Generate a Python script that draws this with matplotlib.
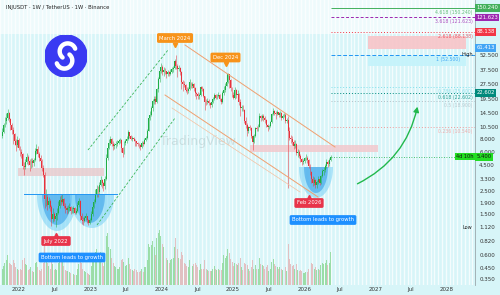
import numpy as np
import pandas as pd
import matplotlib
matplotlib.use("Agg")
import matplotlib.pyplot as plt
import matplotlib.dates as mdates
from matplotlib.patches import Rectangle, Polygon, FancyArrowPatch, Circle

# ---------------- data (weekly INJ/USDT) ----------------
start_week = "2021-10-04"
first_open = 8.6
close = [
    # 2021 Oct-Dec
    9.4, 10.9, 12.0, 12.9, 14.2, 12.5, 11.0, 9.8, 8.9, 7.7, 7.0, 7.8, 6.6,
    # 2022
    6.0, 5.7, 4.4, 4.3, 4.8, 5.4, 4.9, 4.5, 4.9, 4.7, 5.0, 6.1, 6.4,
    5.8, 5.3, 4.9, 4.2, 3.6, 2.1, 2.2, 1.85, 2.0, 1.75, 1.35, 1.5, 1.33,
    1.42, 1.55, 1.8, 2.05, 1.95, 2.1, 1.8, 1.7, 1.65, 1.72, 1.75, 1.6, 1.68,
    1.7, 1.55, 1.62, 1.85, 2.0, 1.45, 1.3, 1.28, 1.38, 1.42, 1.3, 1.24, 1.3,
    # 2023
    1.5, 1.75, 1.95, 2.35, 2.6, 2.45, 2.85, 3.2, 3.0, 2.8, 3.3, 5.2, 6.6,
    7.3, 8.0, 7.2, 6.8, 7.0, 7.2, 7.4, 7.6, 7.9, 6.5, 5.9, 7.3, 7.6,
    8.0, 9.3, 8.6, 8.1, 8.2, 8.0, 7.6, 7.3, 7.1, 7.0, 6.7, 7.4, 7.2,
    7.9, 8.2, 9.6, 12.8, 13.8, 15.9, 18.6, 19.8, 18.5, 24.5, 30.5, 36.5, 40.5,
    # 2024
    35.5, 37.5, 36.5, 34.0, 36.0, 34.5, 36.0, 38.5, 39.0, 46.0, 41.0, 38.0, 39.5,
    35.5, 29.0, 27.5, 27.0, 24.0, 23.5, 24.5, 28.5, 26.0, 27.5, 25.0, 22.5, 22.0,
    21.0, 21.5, 25.5, 24.5, 21.0, 18.5, 18.3, 18.8, 18.0, 17.0, 18.5, 19.5, 21.5, 20.2,
    21.0, 21.5, 19.5, 18.5, 22.5, 24.0, 26.5, 28.5, 34.0, 30.0, 25.0, 21.5, 20.0,
    # 2025
    24.0, 21.5, 22.0, 18.5, 16.0, 16.3, 15.5, 12.0, 11.0, 9.5, 10.5, 10.3, 8.5,
    7.5, 8.6, 10.3, 10.0, 10.6, 13.3, 12.9, 13.5, 12.8, 12.2, 11.0, 10.4, 10.8,
    11.8, 13.9, 15.0, 14.5, 14.0, 14.6, 13.6, 14.5, 12.8, 13.5, 13.8, 12.0, 12.3,
    9.6, 8.3, 8.0, 7.5, 6.8, 7.2, 5.9, 6.0, 5.5, 5.1, 4.8, 4.9, 5.2,
    # 2026
    5.3, 5.0, 4.4, 3.8, 3.3, 3.0, 3.2, 2.9, 3.1, 3.3, 3.0, 3.5, 3.9,
    4.0, 4.4, 4.8, 4.6, 5.0, 5.4,
]
high = [
    10.2, 11.6, 13.1, 14.5, 15.7, 14.8, 12.9, 11.5, 10.6, 9.2, 8.0, 8.5, 8.3,
    6.9, 6.4, 5.9, 4.8, 5.1, 5.9, 5.6, 5.1, 5.3, 5.2, 5.3, 6.5, 7.2,
    6.9, 6.0, 5.6, 5.1, 4.5, 3.8, 2.6, 2.35, 2.2, 2.1, 1.85, 1.7, 1.58,
    1.55, 1.7, 2.0, 2.25, 2.3, 2.35, 2.15, 1.9, 1.8, 1.85, 1.9, 1.8, 1.75,
    1.8, 1.75, 1.7, 1.95, 2.15, 2.05, 1.55, 1.4, 1.45, 1.55, 1.45, 1.33, 1.36,
    1.6, 1.85, 2.1, 2.6, 2.9, 2.8, 3.1, 3.5, 3.3, 3.1, 3.5, 5.8, 7.3,
    8.0, 8.6, 8.3, 7.6, 7.4, 7.6, 7.8, 8.0, 8.3, 8.1, 6.7, 7.6, 8.0,
    8.6, 9.9, 9.4, 8.8, 8.5, 8.4, 8.1, 7.7, 7.5, 7.4, 7.2, 7.7, 7.6,
    8.3, 8.6, 10.1, 13.5, 14.9, 16.8, 19.6, 21.0, 20.8, 25.3, 32.0, 38.0, 44.0,
    42.0, 40.0, 39.0, 37.0, 37.5, 37.0, 38.0, 40.5, 41.0, 47.5, 52.7, 43.0, 42.0,
    40.0, 37.0, 30.0, 29.5, 27.5, 25.5, 25.5, 30.5, 29.0, 29.0, 28.0, 25.5, 23.0,
    23.0, 22.5, 26.0, 26.5, 25.0, 21.0, 19.5, 20.0, 19.5, 18.4, 19.0, 20.5, 22.6, 22.0,
    22.0, 23.0, 22.0, 20.0, 23.5, 26.5, 28.0, 31.0, 35.4, 34.5, 31.0, 25.5, 23.0,
    25.5, 24.5, 24.0, 22.5, 19.5, 17.0, 17.0, 15.8, 13.0, 11.4, 10.8, 11.0, 10.5,
    8.8, 9.0, 10.6, 10.8, 11.2, 14.5, 13.6, 14.0, 14.0, 13.5, 12.5, 11.2, 11.0,
    12.0, 14.5, 16.2, 15.5, 15.0, 15.4, 14.8, 15.0, 14.6, 14.0, 14.5, 14.2, 12.8,
    13.3, 10.4, 8.8, 8.6, 7.8, 7.8, 7.4, 6.4, 6.3, 5.8, 5.3, 5.1, 5.4,
    5.7, 5.5, 5.1, 4.6, 3.9, 3.5, 3.4, 3.3, 3.2, 3.5, 3.4, 3.6, 4.1,
    4.3, 4.6, 5.1, 5.0, 5.2, 5.6,
]
low = [
    8.3, 9.2, 10.4, 11.2, 12.3, 11.8, 9.8, 8.9, 7.1, 7.0, 6.1, 6.7, 6.3,
    5.5, 5.2, 4.1, 3.6, 4.1, 4.6, 4.5, 3.9, 4.2, 4.3, 4.4, 4.9, 5.7,
    5.4, 4.9, 4.5, 3.9, 3.4, 1.7, 1.8, 1.65, 1.7, 1.6, 1.15, 1.25, 1.28,
    1.12, 1.3, 1.5, 1.7, 1.85, 1.9, 1.72, 1.55, 1.5, 1.55, 1.6, 1.5, 1.55,
    1.55, 1.5, 1.5, 1.58, 1.75, 1.3, 1.2, 1.18, 1.25, 1.32, 1.22, 1.18, 1.2,
    1.28, 1.45, 1.7, 1.9, 2.2, 2.2, 2.35, 2.8, 2.7, 2.5, 2.6, 3.2, 5.0,
    6.4, 7.0, 6.8, 6.3, 6.4, 6.5, 6.9, 7.1, 7.4, 6.0, 5.4, 5.8, 7.0,
    7.4, 7.9, 8.3, 7.8, 7.7, 7.6, 6.9, 6.8, 6.8, 6.6, 6.3, 6.6, 6.9,
    7.1, 7.7, 8.1, 9.5, 12.4, 13.5, 15.0, 17.4, 17.6, 18.0, 23.0, 29.0, 35.0,
    33.5, 32.5, 34.0, 31.5, 33.0, 33.0, 33.5, 35.0, 35.5, 38.5, 38.0, 32.0, 36.5,
    33.5, 24.5, 23.5, 25.5, 23.0, 22.0, 22.5, 24.0, 25.0, 25.0, 23.5, 21.0, 19.5,
    19.5, 19.5, 21.0, 23.5, 20.5, 15.5, 17.2, 17.6, 17.2, 16.2, 16.5, 18.0, 19.2, 19.5,
    19.5, 20.5, 18.8, 17.5, 18.0, 21.5, 23.0, 26.0, 28.0, 25.0, 23.5, 20.5, 19.5,
    19.5, 20.0, 19.5, 17.0, 13.5, 15.0, 15.0, 11.5, 10.2, 8.6, 9.2, 9.8, 8.2,
    6.3, 7.4, 8.4, 9.6, 9.5, 10.5, 12.0, 12.4, 12.0, 11.6, 10.5, 9.5, 10.0,
    10.6, 11.6, 13.6, 13.6, 12.6, 13.6, 13.0, 13.0, 12.4, 12.5, 13.0, 11.5, 11.6,
    2.7, 7.8, 7.4, 7.0, 6.4, 6.5, 5.6, 5.4, 5.2, 4.8, 4.5, 4.6, 4.7,
    5.0, 4.7, 4.2, 3.6, 3.0, 2.8, 2.9, 2.7, 2.7, 2.95, 2.85, 2.95, 3.4,
    3.6, 3.8, 4.2, 4.3, 4.4, 4.9,
]
volume = [
    30, 35, 40, 45, 55, 40, 38, 36, 45, 40, 33, 30, 28,
    30, 28, 45, 50, 38, 36, 28, 30, 32, 25, 24, 40, 42,
    32, 28, 25, 30, 40, 85, 55, 40, 35, 30, 50, 38, 28,
    30, 28, 40, 45, 45, 48, 35, 28, 25, 25, 24, 22, 20,
    20, 18, 18, 30, 38, 55, 40, 30, 26, 24, 22, 20, 18,
    35, 45, 50, 60, 65, 45, 55, 60, 40, 35, 45, 90, 95,
    70, 65, 50, 40, 35, 33, 30, 30, 32, 45, 48, 42, 35,
    36, 50, 38, 30, 28, 25, 30, 28, 24, 24, 26, 30, 24,
    32, 33, 45, 75, 70, 72, 80, 70, 55, 85, 95, 100, 90,
    75, 70, 55, 50, 45, 40, 45, 48, 50, 70, 85, 65, 50,
    48, 60, 55, 40, 38, 35, 32, 45, 36, 34, 38, 40, 36,
    32, 28, 38, 30, 30, 45, 30, 28, 26, 25, 26, 30, 35, 30,
    28, 30, 28, 27, 40, 55, 50, 52, 65, 58, 48, 42, 35,
    40, 38, 36, 40, 50, 32, 28, 40, 38, 36, 30, 26, 32,
    45, 30, 36, 30, 30, 50, 38, 36, 34, 30, 32, 36, 26,
    30, 42, 48, 38, 34, 32, 30, 32, 30, 28, 28, 32, 26,
    75, 48, 38, 34, 36, 30, 38, 28, 26, 28, 26, 22, 22,
    24, 24, 30, 36, 40, 38, 30, 32, 28, 30, 28, 36, 40,
    38, 40, 46, 36, 40, 60,
]
price_ticks = [52.5, 37.5, 27.5, 19.5, 14.5, 10.5, 8.0, 6.0, 4.5, 3.3,
               2.5, 1.9, 1.5, 1.12, 0.82, 0.6, 0.45, 0.35]
year_ticks = ["2022-01-01", "2022-07-01", "2023-01-01", "2023-07-01", "2024-01-01",
              "2024-07-01", "2025-01-01", "2025-07-01", "2026-01-01", "2026-07-01",
              "2027-01-01", "2027-07-01", "2028-01-01"]
year_labels = ["2022", "Jul", "2023", "Jul", "2024", "Jul", "2025", "Jul", "2026",
               "Jul", "2027", "Jul", "2028"]
fib_levels = [150.24, 121.623, 88.138, 52.5, 25.6, 22.602, 18.9, 10.54]
fib_texts = ["4.618 (150.240)", "3.618 (121.623)", "2.618 (88.138)", "1 (52.500)",
             "0.786 (25.600)", "0.618 (22.602)", "0.5 (18.900)", "0.236 (10.540)"]
fib_colors = ["#43b05c", "#9c27b0", "#f23645", "#2196f3", "#80deea", "#00897b",
              "#b0bec5", "#ef9a9a"]
fib_styles = ["-", (0, (3, 2)), (0, (1, 2)), (0, (4, 2)), (0, (1, 2)), (0, (1, 2)),
              (0, (1, 2)), (0, (1, 2))]
fib_text_right = [0.995, 0.995, 0.995, 0.968, 0.995, 0.995, 0.995, 0.995]
axis_boxes = [(150.24, "150.240", "#43b05c"), (121.623, "121.623", "#9c27b0"),
              (88.138, "88.138", "#f23645"), (61.4, "61.413", "#42a5f5"),
              (22.602, "22.602", "#00897b")]

# ---------------- figure ----------------
BG = "#d7f5f8"
fig = plt.figure(figsize=(5, 2.95), dpi=100)
fig.patch.set_facecolor(BG)
rect = [0, 10 / 295, 475 / 500, 285 / 295]
axv = fig.add_axes(rect)
ax = fig.add_axes(rect, sharex=axv)
ax.set_facecolor("none")
axv.set_facecolor(BG)

dates = pd.date_range(start_week, periods=len(close), freq="7D")
x = mdates.date2num(dates) + 3.5
o = np.array([first_open] + close[:-1])
c = np.array(close)
h = np.array(high)
l = np.array(low)
v = np.array(volume)
up = c >= o

xmin = mdates.date2num(pd.Timestamp("2021-09-26"))
xmax = mdates.date2num(pd.Timestamp("2028-05-23"))

# background stripes
for xs in np.arange(xmin, xmax + 60, 19.5):
    axv.axvline(xs, color="white", lw=1.0, alpha=0.75, zorder=0)
axv.fill_between([0, 1], 0.88, 1.0, transform=axv.transAxes, color="white",
                 alpha=0.6, zorder=0.5, lw=0)

# volume
vcol = np.where(up, "#8fd99a", "#e3b7b9")
axv.bar(x, v, width=5, color=vcol, alpha=0.85, zorder=1)
axv.set_ylim(0, 100 * 285 / 55)
axv.set_yticks([])
axv.set_xlim(xmin, xmax)
for s in axv.spines.values():
    s.set_visible(False)

# price axes
ax.set_yscale("log")
ax.set_ylim(0.307, 179.5)
ax.set_xlim(xmin, xmax)
ccol = np.where(up, "#1fae46", "#e8323c")
ax.vlines(x, l, h, colors=ccol, lw=0.6, alpha=0.6, zorder=4)
ax.bar(x, np.abs(c - o), bottom=np.minimum(o, c), width=4.8, color=ccol, zorder=5)

ax.yaxis.tick_right()
ax.yaxis.set_minor_locator(matplotlib.ticker.NullLocator())
ax.set_yticks(price_ticks)
ax.set_yticklabels([f"{t:.3f}" for t in price_ticks])
ax.tick_params(axis="y", length=0, labelsize=4, colors="#333333", pad=3)
ax.set_xticks(mdates.date2num(pd.to_datetime(year_ticks)))
ax.set_xticklabels(year_labels)
ax.tick_params(axis="x", length=0, labelsize=4, colors="#333333", pad=1.5)
axv.tick_params(axis="x", length=0, labelbottom=False)
for s in ["top", "left", "bottom"]:
    ax.spines[s].set_visible(False)
ax.spines["right"].set_color("#9aa7ab")
ax.spines["right"].set_linewidth(0.6)

T = ax.transAxes
def P(px, py):
    return (px / 475, 1 - py / 285)

# zones
ax.add_patch(Rectangle(P(18, 176), 86 / 475, 8 / 285, transform=T, color="#e9c9cc", alpha=0.8, zorder=2, lw=0))
ax.add_patch(Rectangle(P(250, 152), 128 / 475, 7 / 285, transform=T, color="#f3c6ca", alpha=0.8, zorder=2, lw=0))
ax.add_patch(Rectangle(P(368, 49), 98 / 475, 13 / 285, transform=T, color="#f8c4c8", alpha=0.9, zorder=2, lw=0))
ax.add_patch(Rectangle(P(368, 66), 98 / 475, 10 / 285, transform=T, color="#c4f3fb", alpha=0.9, zorder=2, lw=0))

# fib lines
yax = ax.get_yaxis_transform()
x_last = x[-1]
for lev, txt, col, ls, xr in zip(fib_levels, fib_texts, fib_colors, fib_styles, fib_text_right):
    ax.hlines(lev, x_last, xmax, colors=col, linestyles=ls, lw=0.7, zorder=3)
    ax.text(xr, lev * 0.955, txt, transform=yax, ha="right", va="top",
            fontsize=3.3, color=col, alpha=0.8, zorder=6)
ax.text(0.995, 52.5, "High", transform=yax, ha="right", va="center", fontsize=3.6, color="#222", zorder=6)
ax.text(0.995, 1.12, "Low", transform=yax, ha="right", va="center", fontsize=3.6, color="#222", zorder=6)

for lev, txt, col in axis_boxes:
    ax.text(1.003, lev, txt, transform=yax, ha="left", va="center", fontsize=3.8,
            color="white", zorder=10, clip_on=False,
            bbox=dict(boxstyle="square,pad=0.25", fc=col, ec="none"))
# current price
ax.hlines(close[-1], x_last, xmax, colors="#1fae46", linestyles=(0, (1, 2)), lw=0.6, zorder=3)
ax.text(1.003, close[-1], f"{close[-1]:.3f}", transform=yax, ha="left", va="center",
        fontsize=3.8, color="#111", zorder=10, clip_on=False,
        bbox=dict(boxstyle="square,pad=0.25", fc="#22dd22", ec="none"))
ax.text(0.997, close[-1], "4d 10h", transform=yax, ha="right", va="center",
        fontsize=3.6, color="#111", zorder=10,
        bbox=dict(boxstyle="square,pad=0.25", fc="#22dd22", ec="none"))

# neckline
ax.plot([24 / 475, 117 / 475], [1 - 194 / 285] * 2, transform=T, color="#2196f3", lw=0.7, zorder=6)

# channels
def seg(p1, p2, **kw):
    a, b = P(*p1), P(*p2)
    ax.plot([a[0], b[0]], [a[1], b[1]], transform=T, **kw)
seg((88, 150), (168, 50), color="#3cb55a", lw=0.6, ls=(0, (3, 2)), zorder=6)
seg((97, 225), (175, 118), color="#3cb55a", lw=0.6, ls=(0, (3, 2)), zorder=6)
seg((185, 45), (335, 147), color="#f0a070", lw=0.7, zorder=6)
seg((165, 95), (318, 197), color="#f0a070", lw=0.7, zorder=6)
seg((172, 108), (300, 192), color="#f5c0a0", lw=0.5, zorder=6)

# bowls
def bowl(cx, top, hw, depth, col, alpha):
    th = np.linspace(np.pi, 2 * np.pi, 40)
    pts = [P(cx + hw * np.cos(t), top - depth * np.sin(t)) for t in th]
    ax.add_patch(Polygon(pts, closed=True, transform=T, fc=col, ec="none", alpha=alpha, zorder=3))
bowl(57, 195, 20, 36, "#7fd3f7", 0.6)
bowl(57, 195, 15, 30, "#2e9be8", 0.55)
bowl(92, 195, 22, 33, "#7fd3f7", 0.6)
bowl(90, 195, 15, 28, "#2e9be8", 0.55)
bowl(316, 167, 17, 31, "#7fd3f7", 0.6)
bowl(316, 167, 12, 26, "#2e9be8", 0.55)

# labels
def label(px, py, txt, fc, pointer):
    a = P(px, py)
    ax.text(a[0], a[1], txt, transform=T, ha="center", va="center", fontsize=3.8,
            color="white", zorder=12,
            bbox=dict(boxstyle="round,pad=0.45,rounding_size=0.3", fc=fc, ec="none"))
    if pointer is not None:
        b = P(*pointer)
        ax.plot([b[0]], [b[1]], marker="^" if pointer[1] < py else "v", ms=3, color=fc,
                transform=T, zorder=12)
label(56, 241, "July 2022", "#e8344a", (56, 235))
label(72, 257.5, "Bottom leads to growth", "#1e90ff", None)
label(309, 203, "Feb 2026", "#e8344a", (309, 197))
label(323, 220, "Bottom leads to growth", "#1e90ff", None)
label(175, 38, "March 2024", "#f7931a", (175, 45))
label(225.5, 57.5, "Dec 2024", "#f7931a", (226, 64))

# curved arrow
arr = FancyArrowPatch(P(355, 185), P(418, 104), transform=T, connectionstyle="arc3,rad=0.25",
                      arrowstyle="-|>,head_length=3,head_width=1.6", color="#22b84c", lw=1.0, zorder=8)
ax.add_patch(arr)

# watermark
ax.text(P(160, 142)[0], P(160, 142)[1], "TradingView", transform=T, fontsize=9, color="#9aa6a8",
        alpha=0.3, ha="left", va="center", zorder=1)

# title
fig.text(0.012, 0.982, "INJUSDT · 1W / TetherUS · 1W · Binance", fontsize=3.8, color="#222",
         ha="left", va="top")

# logo
lax = fig.add_axes([45 / 500, 1 - 77 / 295, 42 / 500, 42 / 295])
lax.set_xlim(-1, 1); lax.set_ylim(-1, 1); lax.set_aspect("equal"); lax.axis("off")
lax.add_patch(Circle((0, 0), 1, color="#3a3af2"))
t1 = np.linspace(np.radians(20), np.radians(230), 40)
lax.plot(0.08 + 0.38 * np.cos(t1), 0.22 + 0.38 * np.sin(t1), color="white", lw=3.2, solid_capstyle="round")
t2 = np.linspace(np.radians(200), np.radians(410), 40)
lax.plot(-0.08 + 0.38 * np.cos(t2), -0.22 + 0.38 * np.sin(t2), color="white", lw=3.2, solid_capstyle="round")

fig.savefig("out.png", dpi=100, facecolor=fig.get_facecolor())
